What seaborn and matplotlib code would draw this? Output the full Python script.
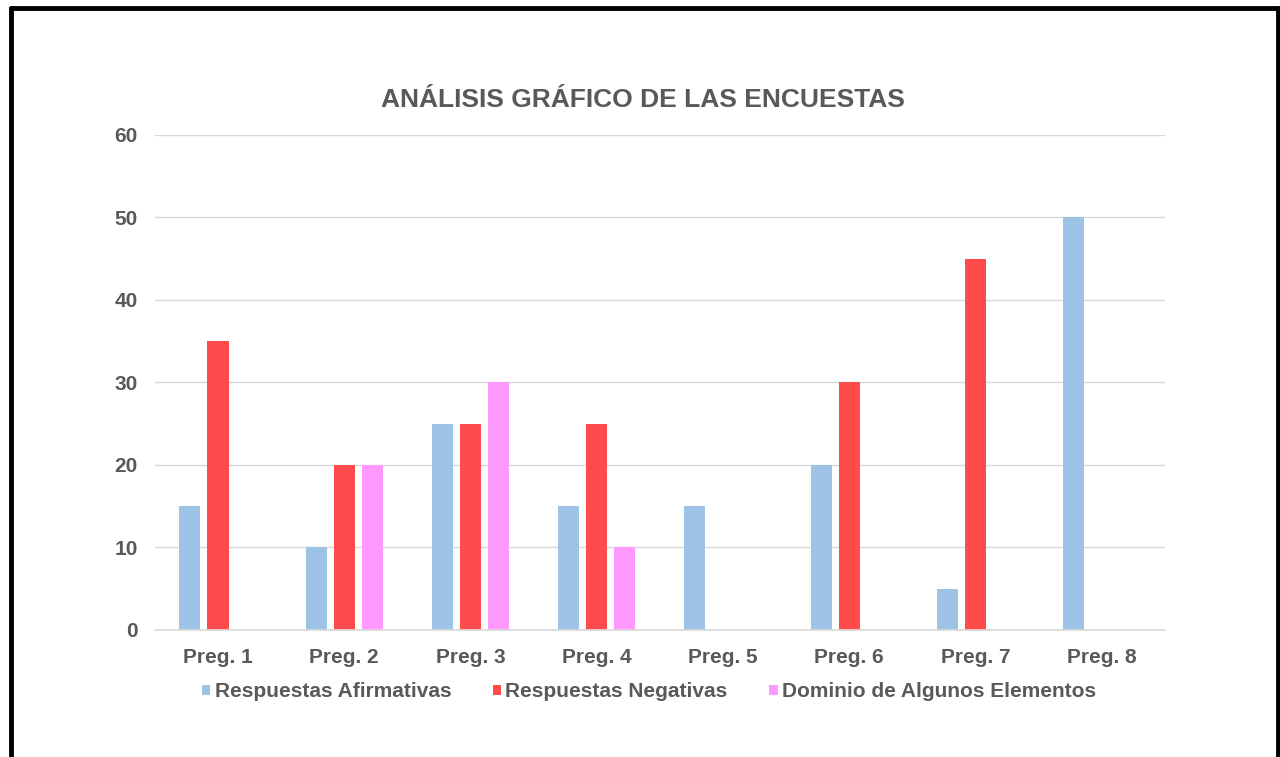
import numpy as np
import pandas as pd
import seaborn as sns
import matplotlib.pyplot as plt
from matplotlib.lines import Line2D

preguntas = ["Preg. 1", "Preg. 2", "Preg. 3", "Preg. 4",
             "Preg. 5", "Preg. 6", "Preg. 7", "Preg. 8"]
afirmativas = [15, 10, 25, 15, 15, 20, 5, 50]
negativas = [35, 20, 25, 25, 0, 30, 45, 0]
dominio = [0, 20, 30, 10, 0, 0, 0, 0]
series = ["Respuestas Afirmativas", "Respuestas Negativas",
          "Dominio de Algunos Elementos"]
colores = ["#9DC3E6", "#FF4B4B", "#FF99FF"]

# long-form table for seaborn
df = pd.DataFrame({
    "pregunta": preguntas * 3,
    "serie": np.repeat(series, len(preguntas)),
    "valor": afirmativas + negativas + dominio,
})

sns.set_theme(style="white")
plt.rcParams["font.family"] = ["Liberation Sans", "DejaVu Sans"]
gris = "#595959"

fig = plt.figure(figsize=(12.8, 7.57), dpi=100)
ax = fig.add_axes([0.121, 0.168, 0.789, 0.654])

sns.barplot(data=df, x="pregunta", y="valor", hue="serie",
            palette=colores, saturation=1, width=0.667, gap=0.25,
            linewidth=0, ax=ax, legend=True)

ax.set_ylim(0, 60)
ax.set_xlim(-0.5, 7.5)
ax.set_yticks(range(0, 61, 10))
ax.yaxis.grid(True, color="#D9D9D9", linewidth=1)
ax.set_axisbelow(True)
for s in ["top", "right", "left"]:
    ax.spines[s].set_visible(False)
ax.spines["bottom"].set_color("#D9D9D9")
ax.tick_params(axis="both", length=0, labelsize=15, labelcolor=gris)
ax.tick_params(axis="x", pad=13)
ax.tick_params(axis="y", pad=12.5)
for lab in ax.get_xticklabels() + ax.get_yticklabels():
    lab.set_fontweight("bold")
ax.set_xlabel("")
ax.set_ylabel("")

fig.text(0.502, 0.868, "ANÁLISIS GRÁFICO DE LAS ENCUESTAS", ha="center",
         va="center", fontsize=19, fontweight="bold", color=gris)

handles, labels = ax.get_legend_handles_labels()
ax.legend_.remove()
fig.legend(handles, labels, loc="center", bbox_to_anchor=(0.507, 0.086),
           ncol=3, frameon=False, handlelength=0.4, handleheight=0.4,
           handletextpad=0.2, columnspacing=2.0,
           prop={"size": 15, "weight": "bold"}, labelcolor=gris)

# black frame around the picture
for xs, ys in [([0.0085, 0.0085], [0.0, 0.9895]),
               ([0.0085, 0.9985], [0.9895, 0.9895]),
               ([0.9985, 0.9985], [0.0, 0.9895])]:
    fig.add_artist(Line2D(xs, ys, color="black", linewidth=3.5,
                          transform=fig.transFigure))

fig.savefig("out.png", dpi=100, facecolor="white")
